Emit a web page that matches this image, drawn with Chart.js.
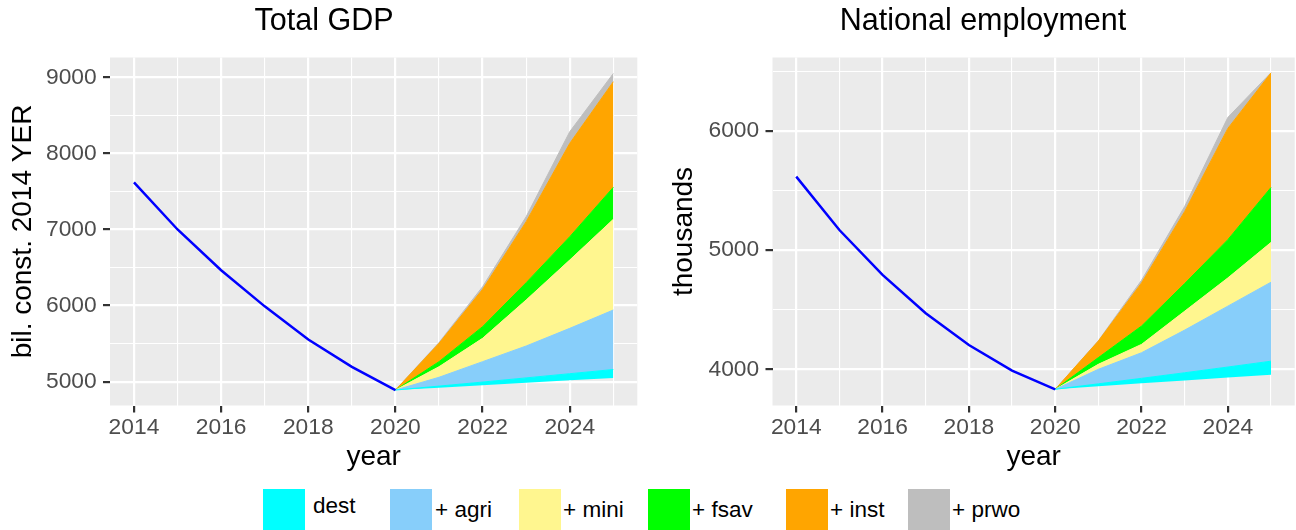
<!DOCTYPE html>
<html>
<head>
<meta charset="utf-8">
<script src="https://cdn.jsdelivr.net/npm/chart.js@4"></script>
<style>
  body { margin: 0; background: #fff; width: 1296px; height: 530px; position: relative; overflow: hidden;
         font-family: "Liberation Sans", Arial, sans-serif; }
  #gdp { position: absolute; left: 0; top: 0; }
  #emp { position: absolute; left: 660px; top: 0; }
  .key { position: absolute; top: 489px; width: 42px; height: 41px; }
  .lab { position: absolute; font-size: 22.5px; line-height: 22.5px; color: #000; white-space: nowrap; }
</style>
</head>
<body>
<canvas id="gdp" width="648" height="480"></canvas>
<canvas id="emp" width="636" height="480"></canvas>
<div id="legend"></div>
<script>
// years
const histYears = [2014, 2015, 2016, 2017, 2018, 2019, 2020];
const projYears = [2020, 2021, 2022, 2023, 2024, 2025];
const yearTicks = [2014, 2016, 2018, 2020, 2022, 2024];

// Total GDP (bil. const. 2014 YER)
const gdpTicks = [5000, 6000, 7000, 8000, 9000];
const gdpHist = [7620, 7000, 6465, 5990, 5555, 5195, 4890];
const gdpBase = [4890, 4920, 4953, 4985, 5018, 5050];
const gdpDest = [4890, 4942, 4995, 5050, 5105, 5160];
const gdpAgri = [4890, 5058, 5263, 5469, 5701, 5942];
const gdpMini = [4890, 5197, 5570, 6074, 6599, 7134];
const gdpFsav = [4890, 5263, 5723, 6301, 6905, 7554];
const gdpInst = [4890, 5504, 6214, 7103, 8132, 8942];
const gdpPrwo = [4890, 5515, 6248, 7168, 8285, 9050];

// National employment (thousands)
const empTicks = [4000, 5000, 6000];
const empHist = [5617, 5169, 4792, 4470, 4204, 3989, 3832];
const empBase = [3832, 3857, 3882, 3906, 3930, 3955];
const empDest = [3832, 3878, 3924, 3971, 4019, 4068];
const empAgri = [3832, 4000, 4139, 4329, 4530, 4731];
const empMini = [3832, 4042, 4209, 4488, 4767, 5065];
const empFsav = [3832, 4098, 4363, 4720, 5088, 5526];
const empInst = [3832, 4237, 4725, 5325, 6022, 6488];
const empPrwo = [3832, 4240, 4747, 5367, 6114, 6490];

const seriesLabels = ['dest', '+ agri', '+ mini', '+ fsav', '+ inst', '+ prwo'];
const seriesColors = ['#00FFFF', '#87CEFA', '#FFF68F', '#00FF00', '#FFA500', '#BEBEBE'];

Chart.defaults.font.family = '"Liberation Sans", Arial, sans-serif';

const panelBg = {
  id: 'panelBg',
  beforeDraw(chart) {
    const a = chart.chartArea;
    const ctx = chart.ctx;
    ctx.save();
    ctx.fillStyle = '#EBEBEB';
    ctx.fillRect(a.left, a.top, a.right - a.left, a.bottom - a.top);
    ctx.restore();
  }
};

function toPoints(xs, ys) {
  return xs.map((x, i) => ({ x: x, y: ys[i] }));
}

// ggplot style minor breaks half way between majors
function minorBreaks(majors, lo, hi) {
  const step = majors[1] - majors[0];
  const out = [];
  [majors[0] - step].concat(majors).forEach(m => {
    const v = m + step / 2;
    if (v > lo && v < hi) out.push(v);
  });
  return out;
}

function axis(majors, lo, hi, extra) {
  const all = majors.concat(minorBreaks(majors, lo, hi)).sort((a, b) => a - b);
  const isMajor = v => majors.includes(v);
  return Object.assign({
    type: 'linear',
    min: lo,
    max: hi,
    afterBuildTicks: s => { s.ticks = all.map(v => ({ value: v })); },
    border: { display: false },
    grid: {
      color: '#FFFFFF',
      lineWidth: c => (c.tick && isMajor(c.tick.value)) ? 2.2 : 1.1,
      tickLength: 7,
      tickWidth: 2.2,
      tickColor: c => (c.tick && isMajor(c.tick.value)) ? '#333333' : 'rgba(0,0,0,0)'
    },
    ticks: {
      autoSkip: false,
      maxRotation: 0,
      minRotation: 0,
      color: '#4D4D4D',
      font: { size: 22.8, lineHeight: 1 },
      callback: v => isMajor(v) ? String(v) : ''
    }
  }, extra);
}

function makeChart(id, opts) {
  const layers = [opts.dest, opts.agri, opts.mini, opts.fsav, opts.inst, opts.prwo];
  const datasets = [
    {
      data: toPoints(histYears, opts.hist),
      borderColor: '#0000FF',
      borderWidth: 2.5,
      fill: false
    },
    {
      data: toPoints(projYears, opts.base),
      borderColor: 'rgba(0,0,0,0)',
      borderWidth: 0,
      fill: false
    }
  ];
  layers.forEach((vals, i) => {
    datasets.push({
      label: seriesLabels[i],
      data: toPoints(projYears, vals),
      borderColor: seriesColors[i],
      backgroundColor: seriesColors[i],
      borderWidth: 1,
      fill: '-1'
    });
  });

  return new Chart(document.getElementById(id), {
    type: 'line',
    data: { datasets: datasets },
    options: {
      responsive: false,
      animation: false,
      events: [],
      layout: { padding: opts.padding },
      elements: { point: { radius: 0 }, line: { tension: 0 } },
      plugins: {
        legend: { display: false },
        tooltip: { enabled: false },
        title: {
          display: true,
          text: opts.title,
          color: '#000000',
          font: { size: 30.5, weight: 'normal', lineHeight: 1.2 },
          padding: { top: 3.4, bottom: 17.5 }
        }
      },
      scales: {
        x: axis(yearTicks, 2013.45, 2025.55, {
          position: 'bottom',
          afterFit: s => { s.height = 74.5; },
          title: {
            display: true, text: 'year', color: '#000000',
            font: { size: 28, lineHeight: 1 },
            padding: { top: 0, bottom: 9 }
          }
        }),
        y: axis(opts.ticks, opts.min, opts.max, {
          position: 'left',
          afterFit: s => { s.width = opts.yWidth; },
          title: {
            display: true, text: opts.yTitle, color: '#000000',
            font: { size: 28, lineHeight: 0.9 },
            padding: { top: opts.yTitlePad, bottom: 0 }
          }
        })
      }
    },
    plugins: [panelBg]
  });
}

// tick padding fine tuning
function tunePadding(chart) {
  chart.options.scales.x.ticks.padding = 4.3;
  chart.options.scales.y.ticks.padding = 6.3;
  chart.update('none');
}

const gdpChart = makeChart('gdp', {
  title: 'Total GDP', yTitle: 'bil. const. 2014 YER',
  hist: gdpHist, base: gdpBase, dest: gdpDest, agri: gdpAgri, mini: gdpMini,
  fsav: gdpFsav, inst: gdpInst, prwo: gdpPrwo,
  ticks: gdpTicks, min: 4687, max: 9260,
  yWidth: 99.3, yTitlePad: 0.3, padding: { left: 10.7, right: 10.7, top: 0, bottom: 0 }
});
const empChart = makeChart('emp', {
  title: 'National employment', yTitle: 'thousands',
  hist: empHist, base: empBase, dest: empDest, agri: empAgri, mini: empMini,
  fsav: empFsav, inst: empInst, prwo: empPrwo,
  ticks: empTicks, min: 3696, max: 6617,
  yWidth: 102.5, yTitlePad: 2, padding: { left: 10, right: 0, top: 0, bottom: 0 }
});
tunePadding(gdpChart);
tunePadding(empChart);

// legend at the bottom
const keyX = [263, 390, 519, 648, 786, 908];
const labX = [313, 435, 563, 692, 830, 952];
const legend = document.getElementById('legend');
seriesLabels.forEach((lab, i) => {
  const box = document.createElement('div');
  box.className = 'key';
  box.style.left = keyX[i] + 'px';
  box.style.background = seriesColors[i];
  legend.appendChild(box);
  const txt = document.createElement('span');
  txt.className = 'lab';
  txt.style.left = labX[i] + 'px';
  txt.style.top = (i === 0 ? 494.6 : 499.4) + 'px';
  txt.textContent = lab;
  legend.appendChild(txt);
});
</script>
</body>
</html>
